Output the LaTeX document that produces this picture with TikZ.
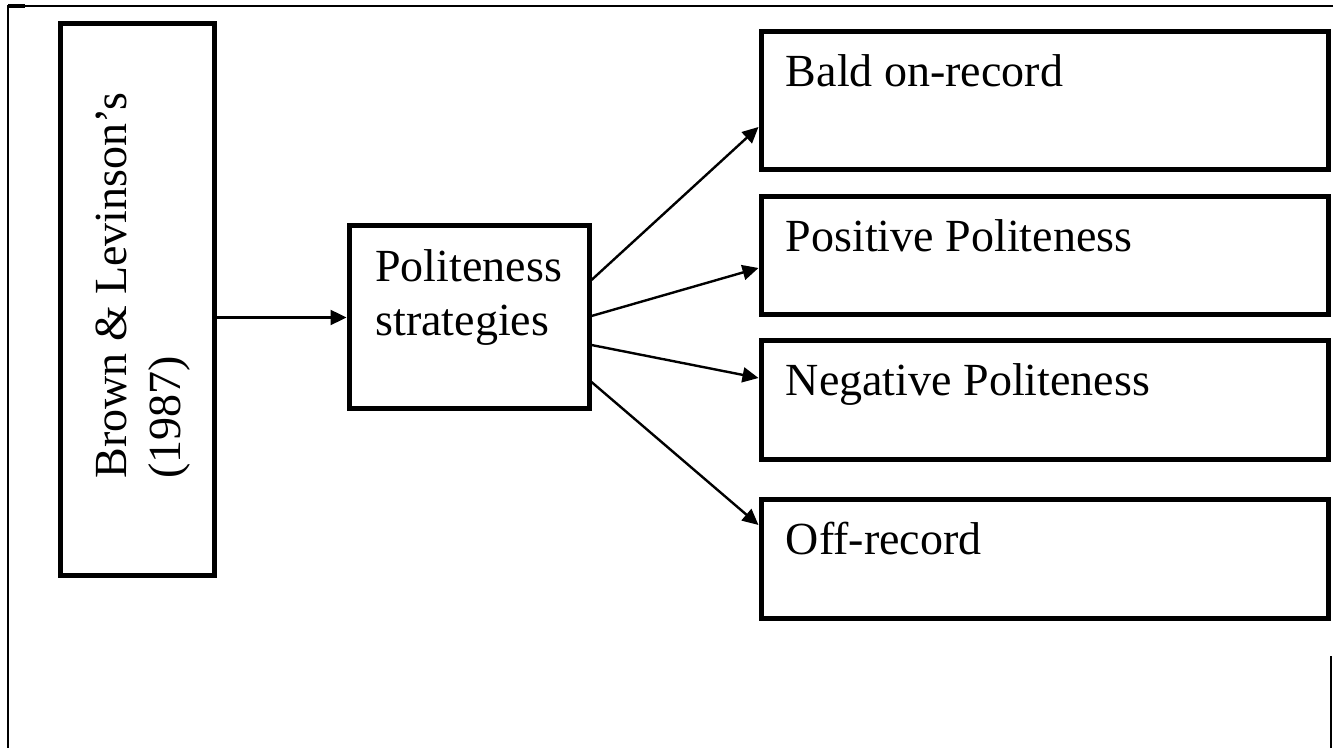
\documentclass[tikz,border=0pt]{standalone}
\usepackage{fontspec}
\setmainfont{Liberation Serif}
\usetikzlibrary{arrows.meta}

\begin{document}
\begin{tikzpicture}
[x=0.5pt,y=-0.5pt,%
  box/.style={draw,line width=2.5pt,inner sep=0pt},%
  txt/.style={inner sep=0pt,font=\fontsize{23}{27}\selectfont,align=left},%
  >={Triangle[length=8pt,width=7.5pt]}]
\useasboundingbox (0,0) rectangle (1339,748);
%% page frame
\draw[line width=1.2pt] (1333,6) -- (8,6) -- (8,748);
\draw[line width=2.2pt] (8,6) -- (25,6);
\draw[line width=1.2pt] (1331,656) -- (1331,748);
%%
\node[box,minimum width=77pt,minimum height=275.5pt] (brown) at (137,299.5) {};
\node[txt,rotate=90,anchor=north west] (brownlbl) at (96,479)
  {Brown \& Levinson’s\\(1987)};
%%
\node[box,minimum width=120pt,minimum height=91.5pt] (polite) at (469,317.5) {};
\node[txt,anchor=north west] (politelbl) at (375,249) {Politeness\\strategies};
%%
\node[box,minimum width=283.5pt,minimum height=69pt] (bald) at (1044.5,101) {};
\node[box,minimum width=283.5pt,minimum height=59pt] (positive) at (1044.5,256) {};
\node[box,minimum width=283.5pt,minimum height=59.5pt] (negative) at (1044.5,400.5) {};
\node[box,minimum width=283.5pt,minimum height=59pt] (offrecord) at (1044.5,559) {};
\foreach \boxName/\boxText in {bald/Bald on-record, positive/Positive Politeness,
  negative/Negative Politeness, offrecord/Off-record}
{
  \node[txt,anchor=base west] (\boxName lbl) at ([shift={(27,57)}]\boxName.north west) {\boxText};
}
%%
\path (brown.east |- polite.west) edge[->,line width=1.2pt] (polite.west);
\path
\foreach \endNode/\startY/\endY in {bald/280/127, positive/316/268,
  negative/345/378, offrecord/382/525}
{
  (polite.east |- 0,\startY) edge[->,line width=1.2pt] (\endNode.west |- 0,\endY)
};
\end{tikzpicture}
\end{document}
